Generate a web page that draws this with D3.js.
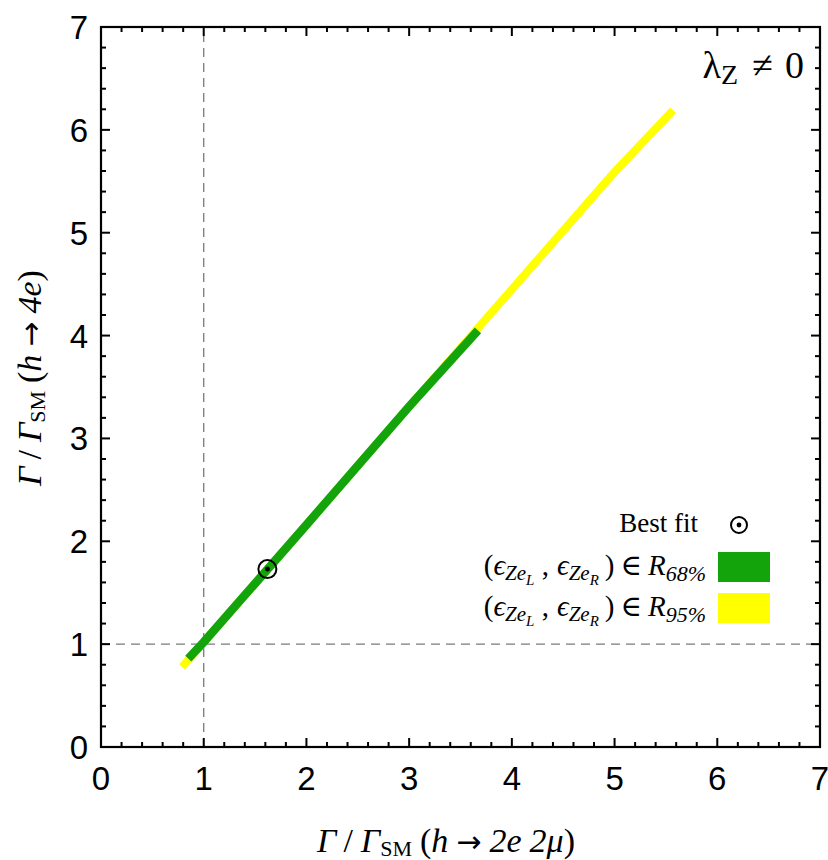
<!DOCTYPE html>
<html>
<head>
<meta charset="utf-8">
<script src="https://cdn.jsdelivr.net/npm/d3@7"></script>
<style>
  body { margin: 0; background: #fff; }
  svg { display: block; }
  svg text { white-space: pre; }
</style>
</head>
<body>
<div id="chart"></div>
<script>
// ---- data ----
const xTicks = [0, 1, 2, 3, 4, 5, 6, 7];
const yTicks = [0, 1, 2, 3, 4, 5, 6, 7];
// 95% region band (yellow): points along the band
const band95X = [0.79, 1.00, 2.00, 3.00, 4.00, 5.00, 5.57];
const band95Y = [0.78, 1.02, 2.16, 3.31, 4.45, 5.59, 6.19];
// 68% region band (green)
const band68X = [0.85, 1.00, 2.00, 3.00, 3.67];
const band68Y = [0.86, 1.02, 2.16, 3.31, 4.05];
const bestFitX = [1.62];
const bestFitY = [1.73];
const refLineX = 1;
const refLineY = 1;

const W = 828, H = 860;
const svg = d3.select("#chart").append("svg").attr("width", W).attr("height", H);

const x = d3.scaleLinear().domain([0, 7]).range([101, 820]);
const y = d3.scaleLinear().domain([0, 7]).range([747, 27]);

const serif = "'Liberation Serif', 'DejaVu Serif', serif";
const sans = "'Liberation Sans', Arial, sans-serif";
const green = "#13a40c";
const yellow = "#ffff00";

// dashed reference lines
svg.append("line").attr("x1", x(refLineX)).attr("x2", x(refLineX)).attr("y1", y(0)).attr("y2", y(7))
  .attr("stroke", "#7a7a7a").attr("stroke-width", 1.3).attr("stroke-dasharray", "9,6");
svg.append("line").attr("x1", x(0)).attr("x2", x(7)).attr("y1", y(refLineY)).attr("y2", y(refLineY))
  .attr("stroke", "#7a7a7a").attr("stroke-width", 1.3).attr("stroke-dasharray", "9,6");

// bands
const line = d3.line().x(d => x(d[0])).y(d => y(d[1]));
const pts95 = band95X.map((v, i) => [v, band95Y[i]]);
const pts68 = band68X.map((v, i) => [v, band68Y[i]]);
svg.append("path").attr("d", line(pts95)).attr("fill", "none")
  .attr("stroke", yellow).attr("stroke-width", 8).attr("stroke-linecap", "butt");
svg.append("path").attr("d", line(pts68)).attr("fill", "none")
  .attr("stroke", green).attr("stroke-width", 8.5).attr("stroke-linecap", "butt");

// best fit marker
bestFitX.forEach((bx, i) => {
  const g = svg.append("g");
  g.append("circle").attr("cx", x(bx)).attr("cy", y(bestFitY[i])).attr("r", 9)
    .attr("fill", "none").attr("stroke", "#000").attr("stroke-width", 2);
  g.append("circle").attr("cx", x(bx)).attr("cy", y(bestFitY[i])).attr("r", 2.5).attr("fill", "#000");
});

// frame
svg.append("rect").attr("x", x(0)).attr("y", y(7)).attr("width", x(7) - x(0)).attr("height", y(0) - y(7))
  .attr("fill", "none").attr("stroke", "#000").attr("stroke-width", 2.2);

// ticks (inward on all four sides), major and minor
const minor = d3.range(0, 7.001, 0.2).map(v => Math.round(v * 10) / 10);
const tickG = svg.append("g").attr("stroke", "#000").attr("stroke-width", 2);
minor.forEach(v => {
  const isMajor = Math.abs(v - Math.round(v)) < 1e-6;
  const L = isMajor ? 9 : 5;
  tickG.append("line").attr("x1", x(v)).attr("x2", x(v)).attr("y1", y(0)).attr("y2", y(0) - L);
  tickG.append("line").attr("x1", x(v)).attr("x2", x(v)).attr("y1", y(7)).attr("y2", y(7) + L);
  tickG.append("line").attr("y1", y(v)).attr("y2", y(v)).attr("x1", x(0)).attr("x2", x(0) + L);
  tickG.append("line").attr("y1", y(v)).attr("y2", y(v)).attr("x1", x(7)).attr("x2", x(7) - L);
});

// tick labels
svg.append("g").selectAll("text").data(xTicks).join("text")
  .attr("x", d => x(d)).attr("y", 790)
  .attr("text-anchor", "middle").attr("font-family", sans).attr("font-size", 33)
  .text(d => d);
svg.append("g").selectAll("text").data(yTicks).join("text")
  .attr("x", 88).attr("y", d => y(d) + 12)
  .attr("text-anchor", "end").attr("font-family", sans).attr("font-size", 33)
  .text(d => d);

// axis labels
function axisLabel(t, proc) {
  t.append("tspan").attr("font-style", "italic").text("Γ");
  t.append("tspan").attr("dx", 7).text("/");
  t.append("tspan").attr("dx", 8).attr("font-style", "italic").text("Γ");
  t.append("tspan").attr("font-size", 22).attr("dy", 4).text("SM");
  t.append("tspan").attr("dy", -4).attr("dx", 8).text("(");
  t.append("tspan").attr("font-style", "italic").text("h");
  t.append("tspan").attr("dx", 8).attr("font-family", "'DejaVu Sans', sans-serif").attr("font-size", 30).text("→");
  proc(t);
  t.append("tspan").text(")");
}
const xl = svg.append("text").attr("x", 446).attr("y", 852).attr("text-anchor", "middle")
  .attr("font-family", serif).attr("font-size", 34);
axisLabel(xl, t => {
  t.append("tspan").attr("dx", 8).attr("font-style", "italic").text("2e");
  t.append("tspan").attr("dx", 8).attr("font-style", "italic").text("2μ");
});
const yl = svg.append("text").attr("transform", "translate(41,378) rotate(-90)").attr("text-anchor", "middle")
  .attr("font-family", serif).attr("font-size", 34);
axisLabel(yl, t => {
  t.append("tspan").attr("dx", 8).attr("font-style", "italic").text("4e");
});

// lambda label
const lam = svg.append("text").attr("x", 804).attr("y", 78).attr("text-anchor", "end")
  .attr("font-family", serif).attr("font-size", 38);
lam.append("tspan").text("λ");
lam.append("tspan").attr("font-size", 28).attr("dy", 6).text("Z");
lam.append("tspan").attr("dy", -6).attr("dx", 14).text("≠");
lam.append("tspan").attr("dx", 12).text("0");

// legend
svg.append("text").attr("x", 698).attr("y", 532).attr("text-anchor", "end")
  .attr("font-family", serif).attr("font-size", 27).text("Best fit");
svg.append("circle").attr("cx", 739).attr("cy", 525).attr("r", 8)
  .attr("fill", "none").attr("stroke", "#000").attr("stroke-width", 2);
svg.append("circle").attr("cx", 739).attr("cy", 525).attr("r", 2.4).attr("fill", "#000");

const legendRows = [
  { label: "68%", color: green, y0: 552 },
  { label: "95%", color: yellow, y0: 593 }
];
legendRows.forEach(r => {
  svg.append("rect").attr("x", 718).attr("y", r.y0).attr("width", 52).attr("height", 30).attr("fill", r.color);
  const t = svg.append("text").attr("x", 706).attr("y", r.y0 + 23).attr("text-anchor", "end")
    .attr("font-family", serif).attr("font-size", 29);
  t.append("tspan").text("(");
  t.append("tspan").attr("font-style", "italic").text("ϵ");
  t.append("tspan").attr("font-style", "italic").attr("font-size", 21).attr("dy", 5).text("Ze");
  t.append("tspan").attr("font-style", "italic").attr("font-size", 15).attr("dy", 5).text("L");
  t.append("tspan").attr("dy", -10).text(" ,");
  t.append("tspan").attr("dx", 8).attr("font-style", "italic").text("ϵ");
  t.append("tspan").attr("font-style", "italic").attr("font-size", 21).attr("dy", 5).text("Ze");
  t.append("tspan").attr("font-style", "italic").attr("font-size", 15).attr("dy", 5).text("R");
  t.append("tspan").attr("dy", -10).attr("dx", 6).text(")");
  t.append("tspan").attr("dx", 6).text("∈");
  t.append("tspan").attr("dx", 6).attr("font-style", "italic").text("R");
  t.append("tspan").attr("font-style", "italic").attr("font-size", 22).attr("dy", 6).text(r.label);
});
</script>
</body>
</html>
